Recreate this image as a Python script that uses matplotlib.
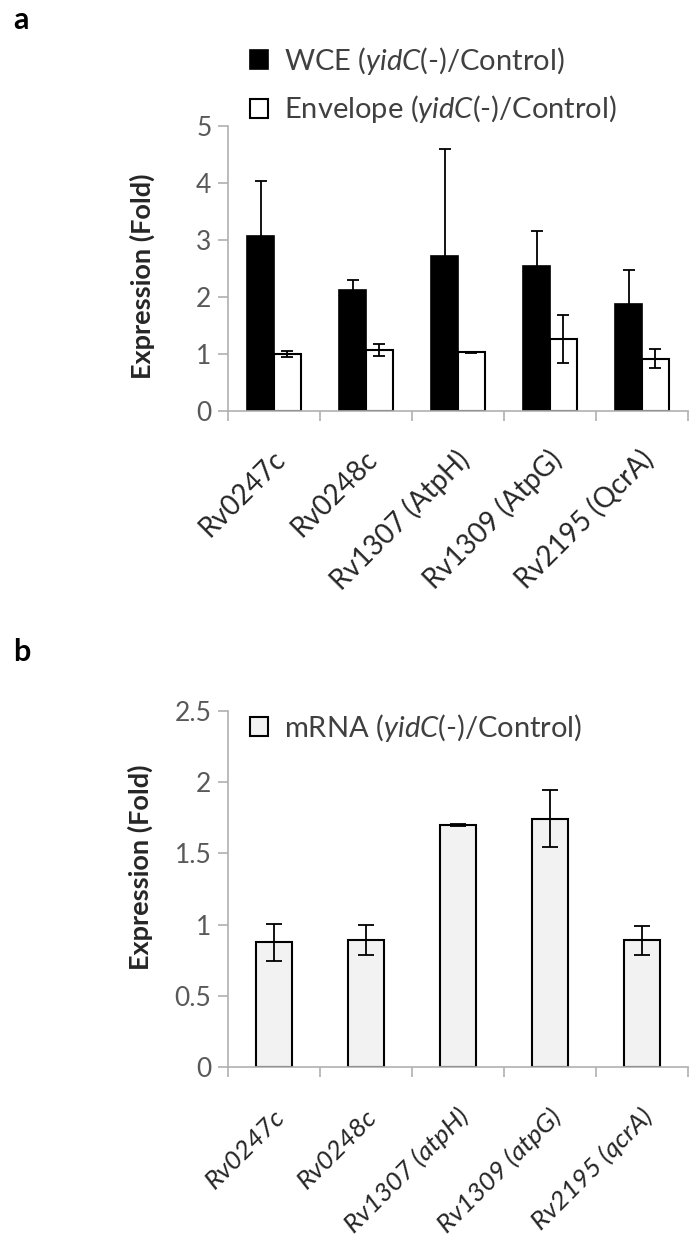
import numpy as np
import matplotlib
matplotlib.use('Agg')
import matplotlib.pyplot as plt
from matplotlib.transforms import ScaledTranslation

plt.rcParams['font.family'] = ['Lato', 'DejaVu Sans']
plt.rcParams['mathtext.fontset'] = 'custom'
plt.rcParams['mathtext.it'] = 'Lato:italic'
plt.rcParams['mathtext.rm'] = 'Lato'

# ---- datos panel a (proteina) ----
genes_a = ['Rv0247c', 'Rv0248c', 'Rv1307 (AtpH)', 'Rv1309 (AtpG)', 'Rv2195 (QcrA)']
wce = [3.07, 2.12, 2.72, 2.55, 1.88]
wce_err = [0.96, 0.18, 1.88, 0.60, 0.59]
envelope = [1.00, 1.07, 1.03, 1.27, 0.92]
envelope_err = [0.06, 0.10, 0.01, 0.42, 0.17]

# ---- datos panel b (mRNA) ----
genes_b = ['Rv0247c', 'Rv0248c', 'Rv1307 (atpH)', 'Rv1309 (atpG)', 'Rv2195 (qcrA)']
mrna = [0.875, 0.89, 1.70, 1.745, 0.89]
mrna_err = [0.13, 0.105, 0.005, 0.20, 0.10]

gris_eje = '#b0b0b0'
gris_txt = '#595959'
fs_tick = 19
fs_leg = 21

fig = plt.figure(figsize=(7, 12.5), dpi=100)
ax1 = fig.add_axes([228/700, 1-411/1250, 460/700, 285/1250])
ax2 = fig.add_axes([228/700, 1-1067/1250, 460/700, 356/1250])


def estilo(ax, ymax, paso, labels, italic, pad, fs_xlab):
    ax.set_xlim(-0.5, 4.5)
    ax.set_ylim(0, ymax)
    ax.set_yticks(np.arange(0, ymax + paso/2, paso))
    ax.set_yticklabels(['%g' % v for v in np.arange(0, ymax + paso/2, paso)])
    ax.set_xticks(np.arange(-0.5, 5, 1))
    ax.set_xticklabels([])
    ax.set_xticks(np.arange(5), minor=True)
    ax.set_xticklabels(labels, minor=True, rotation=45, ha='right', va='center',
                       rotation_mode='anchor', fontsize=fs_xlab, color='#262626',
                       style='italic' if italic else 'normal')
    ax.tick_params(axis='x', which='minor', length=0, pad=pad)
    ax.tick_params(axis='both', which='major', length=7, width=1.2, color=gris_eje,
                   labelsize=fs_tick, labelcolor=gris_txt, pad=5)
    # corre un poco las etiquetas a la derecha
    desplaza = ScaledTranslation(5/72, 0, fig.dpi_scale_trans)
    for lab in ax.get_xticklabels(minor=True):
        lab.set_transform(lab.get_transform() + desplaza)
    for s in ['top', 'right']:
        ax.spines[s].set_visible(False)
    for s in ['left', 'bottom']:
        ax.spines[s].set_color(gris_eje)
        ax.spines[s].set_linewidth(1.2)
    ax.set_ylabel('Expression (Fold)', fontsize=19.5, fontweight='bold', color='#262626')


x = np.arange(len(genes_a))
w = 0.29
ekw = dict(elinewidth=1.3, capthick=1.3)
ax1.bar(x - w/2, wce, w, color='black', edgecolor='black', linewidth=1.2,
        yerr=wce_err, capsize=4.5, error_kw=ekw, label=r'WCE ($\mathit{yidC}$(-)/Control)')
ax1.bar(x + w/2, envelope, w, color='white', edgecolor='black', linewidth=1.5,
        yerr=envelope_err, capsize=4.5, error_kw=ekw, label=r'Envelope ($\mathit{yidC}$(-)/Control)')
estilo(ax1, 5, 1, genes_a, False, 32, 20)
ax1.yaxis.set_label_coords(-0.187, 0.474)
ax1.yaxis.label.set_va('center')
ax1.legend(loc='center left', bbox_to_anchor=(250/700, 1-85/1250), bbox_transform=fig.transFigure,
           frameon=False, fontsize=fs_leg, labelcolor='#404040', handlelength=0.62, handleheight=0.62,
           handletextpad=0.55, labelspacing=0.58, borderaxespad=0, borderpad=0)

ax2.bar(x, mrna, 0.4, color='#f2f2f2', edgecolor='black', linewidth=1.5,
        yerr=mrna_err, capsize=6, error_kw=ekw, label=r'mRNA ($\mathit{yidC}$(-)/Control)')
estilo(ax2, 2.5, 0.5, genes_b, True, 33, 19)
ax2.yaxis.set_label_coords(-0.191, 0.56)
ax2.yaxis.label.set_va('center')
ax2.legend(loc='center left', bbox_to_anchor=(250/700, 1-728/1250), bbox_transform=fig.transFigure,
           frameon=False, fontsize=fs_leg, labelcolor='#404040', handlelength=0.62, handleheight=0.62,
           handletextpad=0.55, borderaxespad=0, borderpad=0)

fig.text(13/700, 1-20/1250, 'a', fontsize=22, fontweight='bold', va='center', ha='left')
fig.text(13/700, 1-652/1250, 'b', fontsize=22, fontweight='bold', va='center', ha='left')

fig.savefig('out.png', dpi=100)
